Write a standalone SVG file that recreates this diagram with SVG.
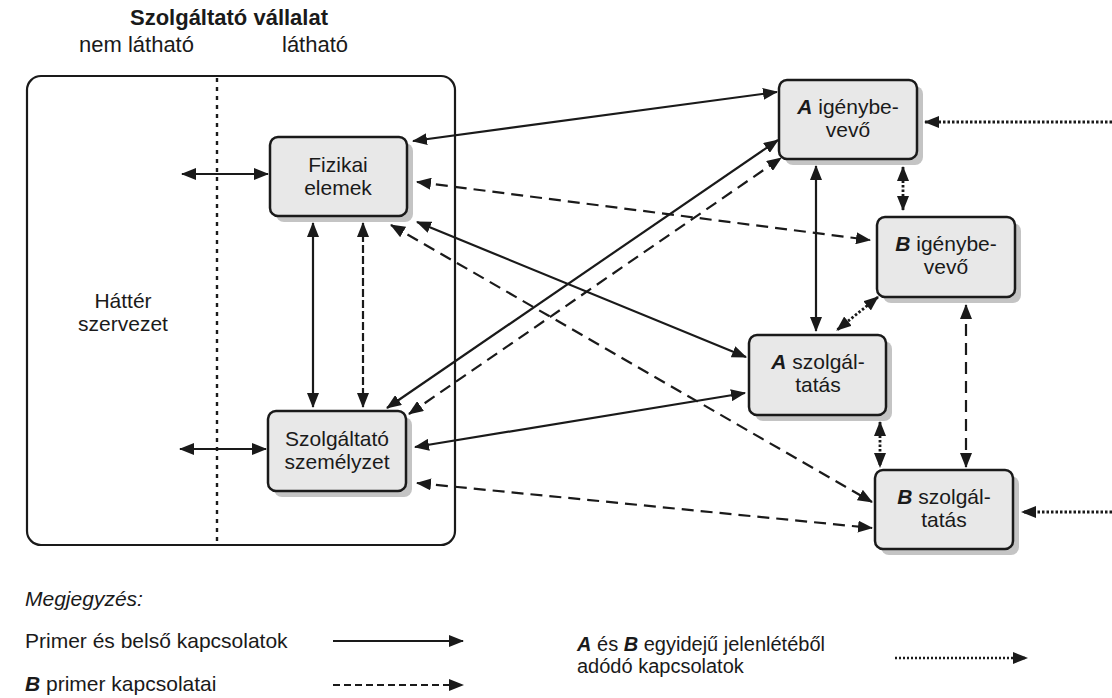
<svg xmlns="http://www.w3.org/2000/svg" width="1112" height="698" viewBox="0 0 1112 698">
  <style>
    text { font-family: "Liberation Sans", Arial, sans-serif; fill: #1a1a1a; }
    .t { font-size: 21px; text-anchor: middle; }
    .lg { font-size: 21px; }
    .lg2 { font-size: 20px; }
    .bi { font-weight: bold; font-style: italic; }
    .box { fill: #e8e8e8; stroke: #1a1a1a; stroke-width: 2.5; }
    .shadow { fill: #c4c4c4; }
    .solid { stroke: #1a1a1a; stroke-width: 2.2; fill: none; }
    .dash { stroke: #1a1a1a; stroke-width: 2.2; fill: none; stroke-dasharray: 12 7; }
    .dash2 { stroke: #1a1a1a; stroke-width: 2.2; fill: none; stroke-dasharray: 8 3; }
    .dot { stroke: #1a1a1a; stroke-width: 2.8; fill: none; stroke-dasharray: 2.5 2; }
    .two { marker-start: url(#ah); marker-end: url(#ah); }
    .one { marker-end: url(#ah); }
  </style>
  <defs>
    <marker id="ah" viewBox="0 0 15 12" refX="14" refY="6" markerWidth="15" markerHeight="12" markerUnits="userSpaceOnUse" orient="auto-start-reverse">
      <path d="M0,0 L15,6 L0,12 z" fill="#1a1a1a"/>
    </marker>
  </defs>

  <rect width="1112" height="698" fill="#ffffff"/>

  <!-- heading -->
  <g id="heading">
    <text x="229" y="25" font-size="22" font-weight="bold" text-anchor="middle">Szolgáltató vállalat</text>
    <text x="79" y="52" font-size="22">nem látható</text>
    <text x="282" y="52" font-size="22">látható</text>
  </g>

  <!-- company frame with visibility line -->
  <g id="company">
    <rect x="27" y="76" width="428" height="469" rx="14" fill="none" stroke="#1a1a1a" stroke-width="2.2"/>
    <line x1="217" y1="78" x2="217" y2="543" stroke="#1a1a1a" stroke-width="2.4" stroke-dasharray="4 5"/>
    <text class="t" x="123" y="308">Háttér</text>
    <text class="t" x="123" y="331">szervezet</text>
  </g>

  <!-- connectors -->
  <g id="connectors">
    <line class="solid two" x1="413" y1="141" x2="777" y2="92"/>
    <line class="dash two" x1="417" y1="182" x2="870" y2="240"/>
    <line class="solid two" x1="417" y1="222" x2="746" y2="357"/>
    <line class="dash two" x1="391" y1="225" x2="872" y2="502"/>
    <line class="solid two" x1="387" y1="408" x2="778" y2="140"/>
    <line class="dash two" x1="409" y1="414" x2="781" y2="158"/>
    <line class="solid two" x1="415" y1="447" x2="745" y2="393"/>
    <line class="dash two" x1="417" y1="483" x2="872" y2="528"/>
    <line class="solid two" x1="816" y1="166" x2="816" y2="331"/>
    <line class="dot two" x1="903" y1="167" x2="903" y2="210"/>
    <line class="dot two" x1="878" y1="297" x2="837" y2="330"/>
    <line class="dash two" x1="966" y1="305" x2="966" y2="467"/>
    <line class="dot two" x1="880" y1="422" x2="880" y2="467"/>
    <line class="dot one" x1="1112" y1="122" x2="925" y2="122"/>
    <line class="dot one" x1="1112" y1="512" x2="1022" y2="512"/>
    <line class="solid two" x1="182" y1="174" x2="268" y2="174"/>
    <line class="solid two" x1="180" y1="449" x2="266" y2="449"/>
    <line class="solid two" x1="313" y1="223" x2="313" y2="407"/>
    <line class="dash2 two" x1="363" y1="223" x2="363" y2="407"/>
  </g>

  <!-- nodes -->
  <g id="fizikai-elemek">
    <rect class="shadow" x="276" y="143" width="137" height="79" rx="8"/>
    <rect class="box" x="270" y="137" width="137" height="79" rx="8"/>
    <text class="t" x="338" y="172">Fizikai</text>
    <text class="t" x="338" y="195">elemek</text>
  </g>

  <g id="szolgaltato-szemelyzet">
    <rect class="shadow" x="274" y="417" width="138" height="80" rx="8"/>
    <rect class="box" x="268" y="411" width="138" height="80" rx="8"/>
    <text class="t" x="337" y="446">Szolgáltató</text>
    <text class="t" x="337" y="469">személyzet</text>
  </g>

  <g id="a-igenybevevo">
    <rect class="shadow" x="785" y="86" width="138" height="79" rx="8"/>
    <rect class="box" x="779" y="80" width="138" height="79" rx="8"/>
    <text class="t" x="848" y="114"><tspan class="bi">A</tspan> igénybe-</text>
    <text class="t" x="848" y="137">vevő</text>
  </g>

  <g id="b-igenybevevo">
    <rect class="shadow" x="883" y="223" width="138" height="80" rx="8"/>
    <rect class="box" x="877" y="217" width="138" height="80" rx="8"/>
    <text class="t" x="946" y="251"><tspan class="bi">B</tspan> igénybe-</text>
    <text class="t" x="946" y="274">vevő</text>
  </g>

  <g id="a-szolgaltatas">
    <rect class="shadow" x="755" y="341" width="137" height="80" rx="8"/>
    <rect class="box" x="749" y="335" width="137" height="80" rx="8"/>
    <text class="t" x="818" y="369"><tspan class="bi">A</tspan> szolgál-</text>
    <text class="t" x="818" y="392">tatás</text>
  </g>

  <g id="b-szolgaltatas">
    <rect class="shadow" x="881" y="476" width="138" height="79" rx="8"/>
    <rect class="box" x="875" y="470" width="138" height="79" rx="8"/>
    <text class="t" x="944" y="504"><tspan class="bi">B</tspan> szolgál-</text>
    <text class="t" x="944" y="527">tatás</text>
  </g>

  <!-- legend -->
  <g id="legend">
    <text class="lg" x="25" y="606" font-style="italic">Megjegyzés:</text>
    <text class="lg" x="25" y="648">Primer és belső kapcsolatok</text>
    <line class="solid one" x1="333" y1="641" x2="463" y2="641"/>
    <text class="lg" x="25" y="691"><tspan class="bi">B</tspan> primer kapcsolatai</text>
    <line class="one" x1="333" y1="685" x2="463" y2="685" stroke="#1a1a1a" stroke-width="2.2" stroke-dasharray="7 4"/>
    <text class="lg2" x="577" y="651"><tspan class="bi">A</tspan> és <tspan class="bi">B</tspan> egyidejű jelenlétéből</text>
    <text class="lg2" x="577" y="673">adódó kapcsolatok</text>
    <line class="one" x1="895" y1="658" x2="1027" y2="658" stroke="#1a1a1a" stroke-width="2.4" stroke-dasharray="2 2"/>
  </g>
</svg>
